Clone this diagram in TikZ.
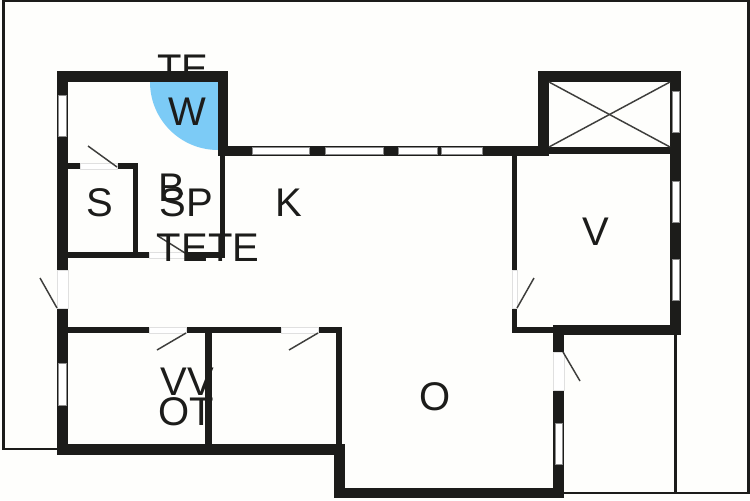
\documentclass[tikz,border=0pt]{standalone}
\usepackage{fontspec}
\setmainfont{Liberation Sans}
\definecolor{wetarea}{HTML}{7CCBF6}
\definecolor{wallink}{HTML}{1C1C1A}
\definecolor{paper}{HTML}{FEFEFC}
\tikzset{
	wall/.style={fill=wallink, draw=none},
	pane/.style={fill=white, draw=black!45, line width=0.3pt},
	opening/.style={fill=white, draw=black!12, line width=0.3pt},
	leaf/.style={draw=wallink!85, line width=1.1pt},
	outline/.style={draw=wallink, line width=1.6pt},
	room/.style={inner sep=0pt, text=wallink, font=\fontsize{30}{30}\selectfont}
}

\begin{document}
\begin{tikzpicture}[x=0.75pt, y=-0.75pt]
	%%%%% START %%%%%
	\useasboundingbox[fill=paper] (0, 0) rectangle (750, 500);

	% outer lines
	\draw[outline] (57, 449) -- (3.5, 449) -- (3.5, 0.75) -- (748.5, 0.75) -- (748.5, 493) -- (564, 493);
	\draw[outline] (675.5, 335) -- (675.5, 493);

	% wet area
	\fill[wetarea] (218, 82) -- (150, 82) arc (180:90:68) -- cycle;

	% walls, upper left
	\fill[wall] (57, 71) rectangle (228, 82);
	\fill[wall] (57, 71) rectangle (68, 270);
	\fill[wall] (218, 71) rectangle (228, 156);
	\fill[wall] (218, 145.5) rectangle (549, 156);
	\fill[wall] (220, 156) rectangle (225, 258);

	% store
	\fill[wall] (68, 163) rectangle (80, 169);
	\fill[wall] (117, 163) rectangle (138, 169);
	\fill[wall] (133, 163) rectangle (138, 258);
	\fill[wall] (68, 252) rectangle (149, 258);
	\fill[wall] (186, 252) rectangle (225, 258);

	% walls, lower left
	\fill[wall] (57, 308) rectangle (68, 455);
	\fill[wall] (57, 444) rectangle (345, 455);
	\fill[wall] (68, 327) rectangle (149, 333);
	\fill[wall] (186, 327) rectangle (281, 333);
	\fill[wall] (318, 327) rectangle (342, 333);
	\fill[wall] (205, 333) rectangle (212, 444);
	\fill[wall] (336, 327) rectangle (342, 444);
	\fill[wall] (334, 444) rectangle (345, 498);
	\fill[wall] (334, 488) rectangle (564, 498);

	% walls, right
	\fill[wall] (538, 71) rectangle (681, 82);
	\fill[wall] (538, 71) rectangle (549, 156);
	\fill[wall] (670, 71) rectangle (681, 335);
	\fill[wall] (549, 147) rectangle (670, 154);
	\fill[wall] (512, 156) rectangle (517, 270);
	\fill[wall] (512, 308) rectangle (517, 333);
	\fill[wall] (512, 327) rectangle (554, 333);
	\fill[wall] (553, 325) rectangle (681, 335);
	\fill[wall] (553, 325) rectangle (564, 352);
	\fill[wall] (553, 390) rectangle (564, 498);

	% shaft
	\draw[leaf] (549, 82) -- (670, 147);
	\draw[leaf] (549, 147) -- (670, 82);

	% windows
	\draw[pane] (58, 95) rectangle (66, 136.5);
	\draw[pane] (58, 363) rectangle (66, 405);
	\draw[pane] (252, 147.5) rectangle (309, 154.5);
	\draw[pane] (325, 147.5) rectangle (383, 154.5);
	\draw[pane] (398, 147.5) rectangle (437, 154.5);
	\draw[pane] (441, 147.5) rectangle (482, 154.5);
	\draw[pane] (672, 91) rectangle (679, 132);
	\draw[pane] (672, 181) rectangle (679, 222);
	\draw[pane] (672, 259) rectangle (679, 300);
	\draw[pane] (555, 423) rectangle (562, 464);

	% door openings
	\draw[opening] (57, 270) rectangle (68, 308);
	\draw[opening] (80, 163) rectangle (117, 169);
	\draw[opening] (149, 252) rectangle (186, 258);
	\draw[opening] (149, 327) rectangle (186, 333);
	\draw[opening] (281, 327) rectangle (318, 333);
	\draw[opening] (512, 270) rectangle (517, 308);
	\draw[opening] (553, 352) rectangle (564, 390);

	% door leaves
	\draw[leaf] (117, 167) -- (88, 146);
	\draw[leaf] (185, 253) -- (158, 236);
	\draw[leaf] (57, 308) -- (40, 278);
	\draw[leaf] (186, 333) -- (157, 350);
	\draw[leaf] (318, 333) -- (289, 350);
	\draw[leaf] (517, 308) -- (534, 278);
	\draw[leaf] (563, 352) -- (580, 381);

	% labels
	\node[room] (teTop) at (183, 68.5) {TE};
	\node[room] (wet) at (187, 112) {W};
	\node[room] (bath) at (172, 188) {B};
	\node[room] (sp) at (186, 202.5) {SP};
	\node[room] (store) at (99.5, 203) {S};
	\node[room] (kitchen) at (289, 203) {K};
	\node[room] (teTwice) at (208, 248) {TETE};
	\node[room] (vRoom) at (596, 232) {V};
	\node[room] (vv) at (187, 382) {VV};
	\node[room] (ot) at (186, 412) {OT};
	\node[room] (oRoom) at (435, 397) {O};
	%%%%% END %%%%%
\end{tikzpicture}
\end{document}
